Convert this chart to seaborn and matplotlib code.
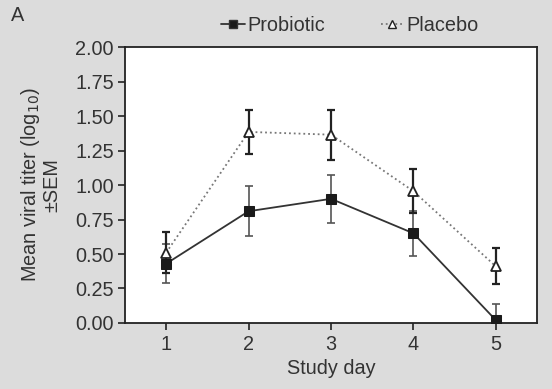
import matplotlib
matplotlib.use("Agg")
import matplotlib.pyplot as plt
import numpy as np
import pandas as pd
import seaborn as sns
from matplotlib.lines import Line2D

days = [1, 2, 3, 4, 5]
probiotic = [0.43, 0.81, 0.90, 0.65, 0.02]
probiotic_sem = [0.14, 0.18, 0.175, 0.165, 0.115]
placebo = [0.51, 1.385, 1.365, 0.955, 0.41]
placebo_sem = [0.15, 0.16, 0.18, 0.16, 0.13]

df = pd.DataFrame({
    "day": days * 2,
    "titer": probiotic + placebo,
    "group": ["Probiotic"] * 5 + ["Placebo"] * 5,
})

sns.set_style("ticks")
plt.rcParams["font.family"] = ["Liberation Sans", "DejaVu Sans"]
bg = "#dcdcdc"
txt = "#333333"
fs = 14.3

fig = plt.figure(figsize=(5.52, 3.89), dpi=100, facecolor=bg)
ax = fig.add_axes([0.2264, 0.1697, 0.7466, 0.7093])
ax.set_facecolor("white")

# error bars first so markers sit on top
ax.errorbar(days, probiotic, yerr=probiotic_sem, fmt="none", ecolor="#555555",
            elinewidth=1.2, capsize=3, capthick=1.2, zorder=2)
ax.errorbar(days, placebo, yerr=placebo_sem, fmt="none", ecolor="#222222",
            elinewidth=1.6, capsize=3, capthick=1.6, zorder=2)

sns.lineplot(data=df[df.group == "Placebo"], x="day", y="titer", ax=ax,
             color="#777777", linestyle=":", linewidth=1.3, marker="^",
             markersize=7.5, markerfacecolor="white", markeredgecolor="#222222",
             markeredgewidth=1.3, zorder=3, legend=False)
sns.lineplot(data=df[df.group == "Probiotic"], x="day", y="titer", ax=ax,
             color="#333333", linestyle="-", linewidth=1.3, marker="s",
             markersize=7.5, markerfacecolor="#1a1a1a", markeredgecolor="#1a1a1a",
             zorder=4, legend=False)

ax.set_xlim(0.5, 5.5)
ax.set_ylim(0, 2)
ax.set_xticks(days)
ax.set_yticks(np.arange(0, 2.01, 0.25))
ax.set_yticklabels([f"{v:.2f}" for v in np.arange(0, 2.01, 0.25)])
ax.tick_params(axis="both", labelsize=fs, colors="#222222", labelcolor=txt,
               length=5, width=1.2, direction="out")
ax.tick_params(axis="y", pad=3)
for s in ax.spines.values():
    s.set_color("#222222")
    s.set_linewidth(1.3)
    s.set_visible(True)

ax.set_xlabel("Study day", fontsize=fs, color=txt, labelpad=4)
ax.set_ylabel("Mean viral titer (log$_{10}$)\n±SEM", fontsize=fs, color=txt,
              linespacing=1.05, labelpad=10)

handles = [
    Line2D([], [], color="#333333", linestyle="-", marker="s", markersize=6,
           markerfacecolor="#1a1a1a", linewidth=1.3),
    Line2D([], [], color="#777777", linestyle=":", marker="^", markersize=6,
           markerfacecolor="white", markeredgecolor="#222222", linewidth=1.3),
]
fig.legend(handles, ["Probiotic", "Placebo"], loc="upper center",
           bbox_to_anchor=(0.634, 1.005), ncol=2, frameon=False, fontsize=fs,
           handlelength=1.2, handletextpad=0.1, columnspacing=2.8,
           labelcolor=txt)

fig.text(0.02, 0.945, "A", fontsize=fs, color=txt)

fig.savefig("out.png", dpi=100, facecolor=bg)
